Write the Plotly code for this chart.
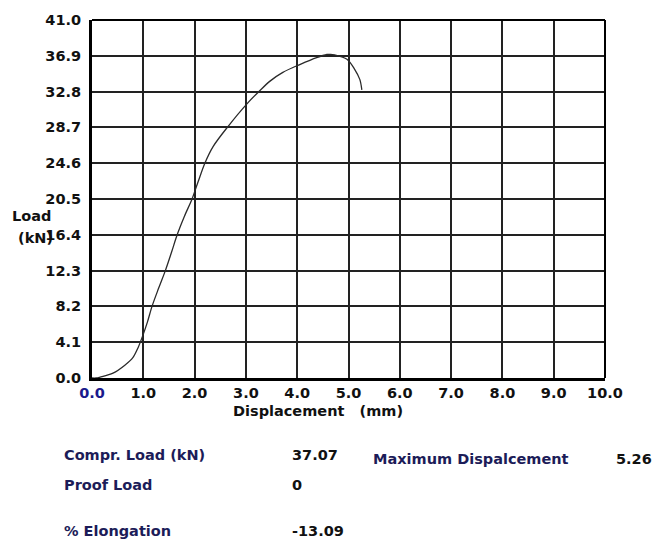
import plotly.graph_objects as go

# Curve data (Displacement mm, Load kN)
disp = [0.0, 0.08, 0.16, 0.41, 0.64, 0.80, 0.90, 0.99, 1.08, 1.17, 1.30, 1.43, 1.55,
        1.66, 1.80, 1.95, 2.07, 2.20, 2.36, 2.65, 3.02, 3.27, 3.47, 3.72, 4.05,
        4.38, 4.58, 4.65, 4.73, 4.97, 5.12, 5.22, 5.26]
load = [0.0, 0.0, 0.11, 0.56, 1.47, 2.37, 3.50, 4.86, 6.4, 8.2, 10.3, 12.3, 14.4,
        16.4, 18.5, 20.5, 22.5, 24.6, 26.5, 28.8, 31.4, 32.9, 34.0, 35.0, 35.9,
        36.7, 37.05, 37.07, 37.0, 36.5, 35.35, 34.2, 33.0]

x_ticks = [0, 1, 2, 3, 4, 5, 6, 7, 8, 9, 10]
x_ticklabels = ["<span style='color:#1a1a8c'>0.0</span>", "1.0", "2.0", "3.0", "4.0",
                "5.0", "6.0", "7.0", "8.0", "9.0", "10.0"]
y_ticks = [0.0, 4.1, 8.2, 12.3, 16.4, 20.5, 24.6, 28.7, 32.8, 36.9, 41.0]
y_ticklabels = ["0.0", "4.1", "8.2", "12.3", "16.4", "20.5", "24.6", "28.7", "32.8", "36.9", "41.0"]

info_labels = ["Compr. Load (kN)", "Proof Load", "% Elongation"]
info_values = ["37.07", "0", "-13.09"]
extra_label = "Maximum Dispalcement"
extra_value = "5.26"

FONT = "DejaVu Sans"
FS = 14.5
W, H = 656, 540
L, R, T, B = 92, 51, 15, 162
PW, PH = W - L - R, H - T - B

def px(x):
    return (x - L) / PW

def py(y):
    return (H - B - y) / PH

fig = go.Figure()
fig.add_trace(go.Scatter(x=disp, y=load, mode="lines",
                         line=dict(color="#2a2a2a", width=1.3, shape="spline", smoothing=0.9),
                         hoverinfo="skip", showlegend=False))

fig.update_layout(
    width=W, height=H,
    margin=dict(l=L, r=R, t=T, b=B, pad=0),
    paper_bgcolor="white", plot_bgcolor="white",
    font=dict(family=FONT, size=FS, color="#111"),
    showlegend=False,
)
fig.update_xaxes(range=[0, 10], tickvals=x_ticks, ticktext=x_ticklabels,
                 showgrid=True, gridcolor="#222", gridwidth=2,
                 showline=True, linecolor="#000", linewidth=3,
                 ticks="", ticklabelstandoff=0, zeroline=False,
                 tickfont=dict(family=FONT, size=FS, color="#111", weight="bold"))
fig.update_yaxes(range=[0, 41], tickvals=y_ticks, ticktext=y_ticklabels,
                 showgrid=True, gridcolor="#222", gridwidth=2,
                 showline=True, linecolor="#000", linewidth=3,
                 ticks="", ticklabelstandoff=5, zeroline=False,
                 tickfont=dict(family=FONT, size=FS, color="#111", weight="bold"))

# top/right frame (thinner)
fig.add_shape(type="line", xref="paper", yref="paper", x0=0, x1=1, y0=1, y1=1,
              line=dict(color="#000", width=2))
fig.add_shape(type="line", xref="paper", yref="paper", x0=1, x1=1, y0=0, y1=1,
              line=dict(color="#000", width=2))

def ann(text, x, y, color="#111", anchor="left", size=FS):
    fig.add_annotation(text=text, xref="paper", yref="paper", x=px(x), y=py(y),
                       xanchor=anchor, yanchor="middle", showarrow=False,
                       font=dict(family=FONT, size=size, color=color, weight="bold"))

ann("Displacement\u00a0\u00a0\u00a0(mm)", 318, 411, anchor="center")
ann("Load", 31, 214, anchor="center")
ann("(kN)", 35, 236, anchor="center")

navy = "#1c1c58"
rows_y = [456, 487, 533]
for lab, val, yy in zip(info_labels, info_values, rows_y):
    ann(lab, 62, yy, color=navy)
    ann(val, 290, yy, color="#111")
ann(extra_label, 371, 460, color=navy)
ann(extra_value, 654, 460, color="#111", anchor="right")

fig.write_html("out.html")
